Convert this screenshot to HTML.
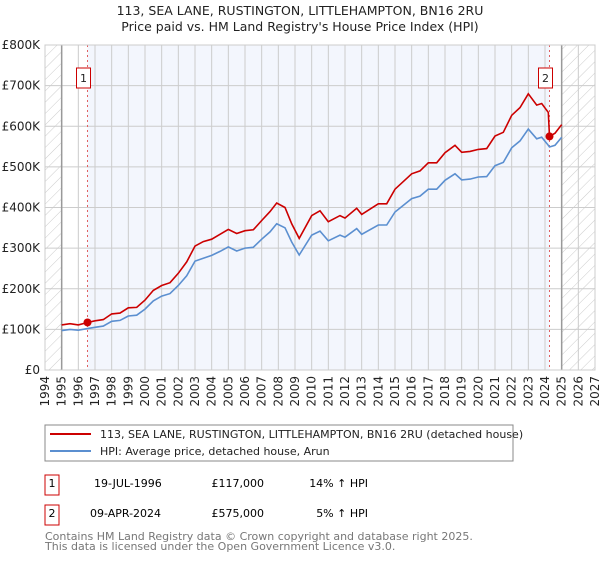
<!DOCTYPE html>
<html><head><meta charset="utf-8"><style>
body{margin:0;background:#fff;}
svg text{font-family:"DejaVu Sans","Liberation Sans",sans-serif;}
</style></head><body>
<svg id="chart" width="600" height="560" viewBox="0 0 600 560" xmlns="http://www.w3.org/2000/svg">
<defs>
<pattern id="hatch" width="8" height="8" patternUnits="userSpaceOnUse" patternTransform="rotate(45)">
<line x1="0" y1="0" x2="0" y2="8" stroke="#ccc" stroke-width="1"/>
</pattern>
</defs>
<text x="300" y="15" text-anchor="middle" font-size="12.5" fill="#222">113, SEA LANE, RUSTINGTON, LITTLEHAMPTON, BN16 2RU</text>
<text x="300" y="31" text-anchor="middle" font-size="12.5" fill="#222">Price paid vs. HM Land Registry's House Price Index (HPI)</text>
<g id="plot"></g>
<g>
<rect x="45" y="425" width="468" height="36" fill="#fff" stroke="#888"/>
<line x1="50" y1="434" x2="91" y2="434" stroke="#cc0000" stroke-width="2"/>
<text x="100" y="438" font-size="11" fill="#222">113, SEA LANE, RUSTINGTON, LITTLEHAMPTON, BN16 2RU (detached house)</text>
<line x1="50" y1="451" x2="91" y2="451" stroke="#5b8fd0" stroke-width="2"/>
<text x="100" y="455" font-size="11" fill="#222">HPI: Average price, detached house, Arun</text>
</g>
<g>
<rect x="45" y="475" width="14" height="20" fill="#fff" stroke="#cc0000"/>
<text x="52" y="487" text-anchor="middle" font-size="11">1</text>
<text x="94" y="487" font-size="11">19-JUL-1996</text>
<text x="264" y="487" text-anchor="end" font-size="11">£117,000</text>
<text x="368" y="487" text-anchor="end" font-size="11">14% ↑ HPI</text>
</g>
<g>
<rect x="45" y="505" width="14" height="20" fill="#fff" stroke="#cc0000"/>
<text x="52" y="517" text-anchor="middle" font-size="11">2</text>
<text x="90" y="517" font-size="11">09-APR-2024</text>
<text x="264" y="517" text-anchor="end" font-size="11">£575,000</text>
<text x="368" y="517" text-anchor="end" font-size="11">5% ↑ HPI</text>
</g>
<text x="45" y="540" font-size="11" fill="#777">Contains HM Land Registry data © Crown copyright and database right 2025.</text>
<text x="45" y="550" font-size="11" fill="#777">This data is licensed under the Open Government Licence v3.0.</text>
</svg>
<script>
const hpiDates=[1995.0,1995.5,1996.0,1996.55,1997.0,1997.5,1998.0,1998.5,1999.0,1999.5,2000.0,2000.5,2001.0,2001.5,2002.0,2002.5,2003.0,2003.5,2004.0,2004.5,2005.0,2005.5,2006.0,2006.5,2007.0,2007.5,2007.9,2008.4,2008.8,2009.25,2010.0,2010.5,2011.0,2011.7,2012.0,2012.7,2013.0,2014.0,2014.5,2015.0,2016.0,2016.5,2017.0,2017.5,2018.0,2018.6,2019.0,2019.5,2020.0,2020.5,2021.0,2021.5,2022.0,2022.5,2023.0,2023.5,2023.8,2024.2,2024.27,2024.6,2025.0];
const hpiValues=[97,100,98,102,105,108,120,122,133,135,150,170,182,188,208,232,268,275,282,292,303,293,300,302,322,340,360,350,315,283,332,342,318,332,327,348,334,357,357,389,422,428,445,445,467,483,468,470,475,476,503,511,547,564,593,569,573,553,549,553,573];
const priceDates=[1995.0,1995.5,1996.0,1996.55,1997.0,1997.5,1998.0,1998.5,1999.0,1999.5,2000.0,2000.5,2001.0,2001.5,2002.0,2002.5,2003.0,2003.5,2004.0,2004.5,2005.0,2005.5,2006.0,2006.5,2007.0,2007.5,2007.9,2008.4,2008.8,2009.25,2010.0,2010.5,2011.0,2011.7,2012.0,2012.7,2013.0,2014.0,2014.5,2015.0,2016.0,2016.5,2017.0,2017.5,2018.0,2018.6,2019.0,2019.5,2020.0,2020.5,2021.0,2021.5,2022.0,2022.5,2023.0,2023.5,2023.8,2024.2,2024.27,2024.6,2025.0];
const priceValues=[111,114,111,117,121,124,138,140,153,154,172,196,208,215,238,266,305,316,322,334,346,336,343,345,368,390,411,400,360,324,380,392,365,380,374,398,383,409,409,445,483,490,510,510,535,553,536,538,543,545,576,585,627,646,680,652,656,634,575,583,604];
const saleDates=[1996.55,2024.27];
const saleValues=[117,575];
const saleLabels=["1","2"];
const yTicks=[0,100,200,300,400,500,600,700,800];
const yTickLabels=["£0","£100K","£200K","£300K","£400K","£500K","£600K","£700K","£800K"];
const xStart=1994,xEnd=2027,dataStart=1995,dataEnd=2025;

const NS="http://www.w3.org/2000/svg";
const L=45,R=595,T=45,B=370;
const xS=v=>L+(v-xStart)/(xEnd-xStart)*(R-L);
const yS=v=>B-v/800*(B-T);
const g=document.getElementById('plot');
function mk(tag,attrs){const e=document.createElementNS(NS,tag);for(const k in attrs)e.setAttribute(k,attrs[k]);g.appendChild(e);return e;}

let e;
e=mk('rect',{x:xS(saleDates[0]),y:T,width:xS(saleDates[1])-xS(saleDates[0]),height:B-T,fill:'#f3f6fd'});


e=mk('rect',{x:L,y:T,width:xS(dataStart)-L,height:B-T,fill:'url(#hatch)'});


e=mk('rect',{x:xS(dataEnd),y:T,width:R-xS(dataEnd),height:B-T,fill:'url(#hatch)'});



for(let yr=xStart;yr<=xEnd;yr++){
  e=mk('line',{x1:xS(yr),x2:xS(yr),y1:T,y2:B,stroke:'#cccccc','stroke-width':1});
  
  
  const t=mk('text',{x:0,y:0,'font-size':12,fill:'#222','text-anchor':'end',transform:`translate(${xS(yr)+4},${B+6}) rotate(-90)`});
  t.textContent=yr;
  
  
}
yTicks.forEach((v,i)=>{
  e=mk('line',{x1:L,x2:R,y1:yS(v),y2:yS(v),stroke:'#cccccc','stroke-width':1});
  
  
  const t=mk('text',{x:L-5,y:yS(v)+4,'font-size':12,fill:'#222','text-anchor':'end'});
  t.textContent=yTickLabels[i];
  
  
});
[dataStart,dataEnd].forEach(d=>{
  e=mk('line',{x1:xS(d),x2:xS(d),y1:T,y2:B,stroke:'#999','stroke-width':1.5});
  
  
});
saleDates.forEach((d,i)=>{
  e=mk('line',{x1:xS(d),x2:xS(d),y1:T,y2:B,stroke:'#e06060','stroke-width':1,'stroke-dasharray':'2,3'});
  
  
});
function pts(ds,vs){return ds.map((d,i)=>xS(d).toFixed(1)+','+yS(vs[i]).toFixed(1)).join(' ');}
e=mk('polyline',{points:pts(hpiDates,hpiValues),fill:'none',stroke:'#5b8fd0','stroke-width':1.6});


e=mk('polyline',{points:pts(priceDates,priceValues),fill:'none',stroke:'#cc0000','stroke-width':1.6});


saleDates.forEach((d,i)=>{
  e=mk('circle',{cx:xS(d),cy:yS(saleValues[i]),r:4,fill:'#cc0000'});
  
  
  const bx=xS(d)-4;
  e=mk('rect',{x:bx-7,y:68,width:14,height:20,fill:'#fff',stroke:'#cc0000'});
  
  
  const t=mk('text',{x:bx,y:82,'font-size':11,'text-anchor':'middle',fill:'#222'});
  t.textContent=saleLabels[i];
  
  
});
e=mk('rect',{x:L,y:T,width:R-L,height:B-T,fill:'none',stroke:'#ccc'});


</script>
</body></html>
